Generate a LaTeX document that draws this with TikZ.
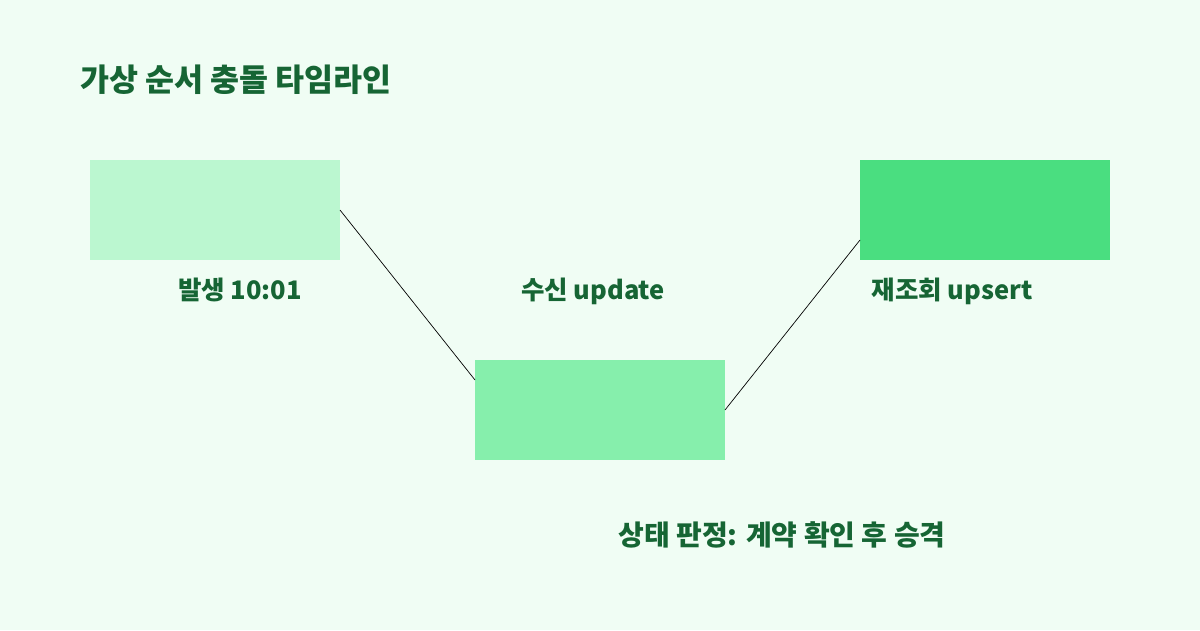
\documentclass[tikz,border=0pt]{standalone}
\usepackage{fontspec}
\setmainfont{Noto Sans CJK KR}
\usetikzlibrary{positioning}
\definecolor{bgmint}{HTML}{F0FDF4}
\definecolor{boxA}{HTML}{BBF7D0}
\definecolor{boxB}{HTML}{86EFAC}
\definecolor{boxC}{HTML}{4ADE80}
\definecolor{inkgreen}{HTML}{166534}
\begin{document}
\begin{tikzpicture}[x=1pt,y=-1pt,
  stage/.style={minimum width=250pt,minimum height=100pt,inner sep=0pt,outer sep=0pt},
  lbl/.style={text=inkgreen,font=\fontsize{25.5}{30}\selectfont\bfseries,inner sep=0pt,anchor=base}]
\fill[bgmint] (0,0) rectangle (1200,630);
\useasboundingbox (0,0) rectangle (1200,630);
\node[anchor=base west,inner sep=0pt,text=inkgreen,font=\fontsize{31.5}{36}\selectfont\bfseries] at (80,91) (title) {가상 순서 충돌 타임라인};
\node[stage,fill=boxA] at (215,210) (occur) {};
\node[stage,fill=boxB] at (600,410) (recv) {};
\node[stage,fill=boxC] at (985,210) (refetch) {};
\node[lbl] at (240,299) (occurL) {발생 10:01};
\node[lbl] at (593,299) (recvL) {수신 update};
\node[lbl] at (952,299) (refetchL) {재조회 upsert};
\node[lbl,font=\fontsize{28}{32}\selectfont\bfseries] at (782,545) (judge) {상태 판정: 계약 확인 후 승격};
\draw[line width=0.7pt] (occur.east) -- ([yshift=30pt]recv.west);
\draw[line width=0.7pt] (recv.east) -- ([yshift=-30pt]refetch.west);
\end{tikzpicture}
\end{document}
